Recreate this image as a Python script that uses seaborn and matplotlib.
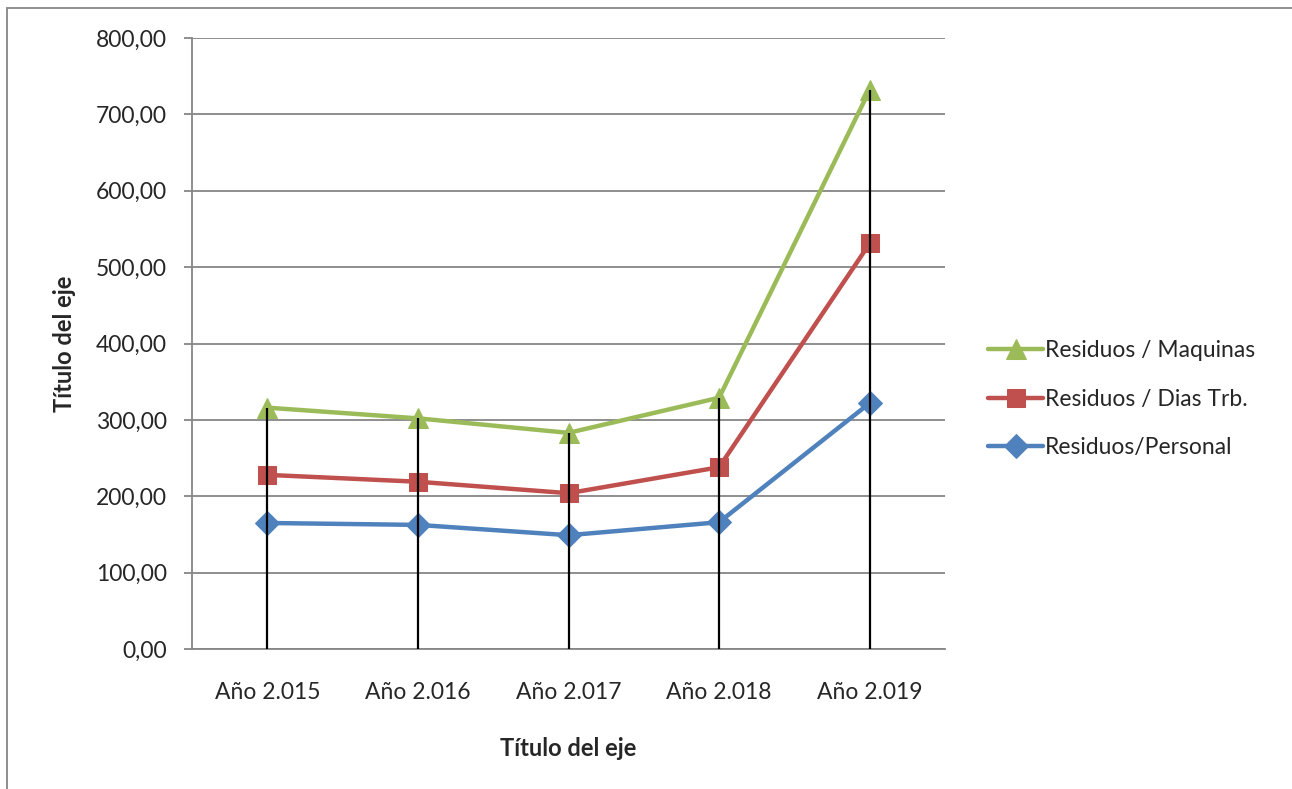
import numpy as np
import pandas as pd
import seaborn as sns
import matplotlib.pyplot as plt
from matplotlib.patches import Rectangle
from matplotlib.ticker import FuncFormatter, MultipleLocator

years = ['Año 2.015', 'Año 2.016', 'Año 2.017', 'Año 2.018', 'Año 2.019']
personal = [165.0, 162.5, 149.0, 166.0, 322.0]
dias_trb = [228.0, 219.0, 204.0, 238.0, 531.0]
maquinas = [316.0, 302.0, 283.0, 329.0, 732.0]

series = [
    ('Residuos/Personal', personal, '#4F81BD', 'D', 12),
    ('Residuos / Dias Trb.', dias_trb, '#C0504D', 's', 13),
    ('Residuos / Maquinas', maquinas, '#9BBB59', '^', 14),
]

sns.set_theme(style='white')
plt.rcParams['font.family'] = ['Lato', 'DejaVu Sans']

fig = plt.figure(figsize=(12.92, 7.89), dpi=100)
ax = fig.add_axes([192 / 1292, 1 - 649 / 789, (945 - 192) / 1292, (649 - 38) / 789])

x = np.arange(len(years))
for name, vals, color, marker, ms in series:
    df = pd.DataFrame({'x': x, 'y': vals})
    sns.lineplot(data=df, x='x', y='y', ax=ax, color=color, marker=marker,
                 markersize=ms, markeredgecolor=color, linewidth=3.2,
                 label=name, zorder=3)

# drop lines from the highest point to the axis
tops = np.max([personal, dias_trb, maquinas], axis=0)
ax.vlines(x, 0, tops, color='black', linewidth=1.6, zorder=4)

ax.set_xlim(-0.5, len(years) - 0.5)
ax.set_ylim(0, 800)
ax.yaxis.set_major_locator(MultipleLocator(100))
ax.yaxis.set_major_formatter(FuncFormatter(lambda v, p: f'{v:.2f}'.replace('.', ',')))
ax.set_xticks(x)
ax.set_xticklabels(years)
ax.grid(axis='y', color='#868686', linewidth=1.3)
ax.set_axisbelow(True)

for s in ['top', 'right']:
    ax.spines[s].set_visible(False)
ax.spines['left'].set_color('#868686')
ax.spines['bottom'].set_color('#868686')
ax.spines['left'].set_linewidth(1.3)
ax.spines['bottom'].set_linewidth(1.3)
ax.tick_params(axis='y', length=6, width=1.3, color='#868686', labelsize=16.5, pad=12, left=True)
ax.tick_params(axis='x', length=0, labelsize=16.5, pad=24)

ax.set_xlabel('Título del eje', fontsize=17, fontweight='bold', labelpad=24)
ax.set_ylabel('Título del eje', fontsize=17, fontweight='bold', labelpad=14)

handles, labels = ax.get_legend_handles_labels()
ax.legend(handles[::-1], labels[::-1], loc='center left', bbox_to_anchor=(1.045, 0.409),
          frameon=False, fontsize=16.5, handlelength=2.4, handletextpad=0.1,
          labelspacing=1.2, borderaxespad=0)

fig.patches.append(Rectangle((7 / 1292, -0.05), 1.1, 1 - 8 / 789 + 0.05,
                             transform=fig.transFigure, fill=False,
                             edgecolor='#868686', linewidth=1.3))

fig.savefig('out.png', dpi=100)
